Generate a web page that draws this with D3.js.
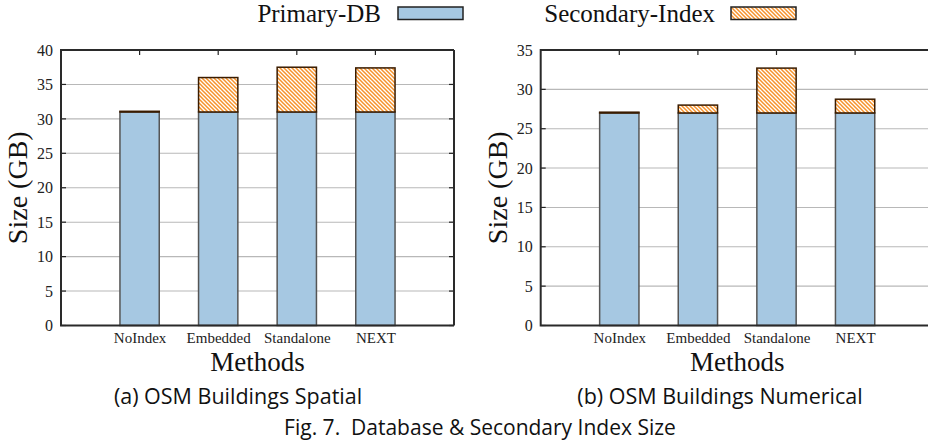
<!DOCTYPE html>
<html>
<head>
<meta charset="utf-8">
<script src="https://cdn.jsdelivr.net/npm/d3@7/dist/d3.min.js"></script>
<style>
  html, body { margin: 0; padding: 0; background: #fff; }
  svg { display: block; }
</style>
</head>
<body>
<svg id="chart" width="928" height="444"></svg>
<script>
// ---- data ----
const categories = ["NoIndex", "Embedded", "Standalone", "NEXT"];
const seriesNames = ["Primary-DB", "Secondary-Index"];
const spatialPrimary = [31, 31, 31, 31];
const spatialSecondary = [0.1, 5.0, 6.5, 6.4];
const numericalPrimary = [27, 27, 27, 27];
const numericalSecondary = [0.1, 1.0, 5.7, 1.75];
const spatialTicks = [0, 5, 10, 15, 20, 25, 30, 35, 40];
const numericalTicks = [0, 5, 10, 15, 20, 25, 30, 35];
const captions = ["(a) OSM Buildings Spatial", "(b) OSM Buildings Numerical"];
const figCaption = "Fig. 7.  Database & Secondary Index Size";

const svg = d3.select("#chart");
const serif = "'Liberation Serif', 'Times New Roman', serif";
const sans = "'Open Sans', 'Noto Sans', sans-serif";
const blue = "#a6c8e2";
const orange = "#f7922a";

// hatch pattern
const defs = svg.append("defs");
const pat = defs.append("pattern")
  .attr("id", "hatch").attr("patternUnits", "userSpaceOnUse")
  .attr("width", 4).attr("height", 4);
pat.append("rect").attr("width", 4).attr("height", 4).attr("fill", "#fff");
pat.append("path").attr("d", "M-1,-1 L5,5 M-1,3 L1,5 M3,-1 L5,1")
  .attr("stroke", orange).attr("stroke-width", 1.5);

function panel(opts) {
  const { x0, x1, y0, y1, yMax, ticks, primary, secondary, caption, capX, clipW } = opts;
  const g = svg.append("g");
  const x = d3.scaleLinear().domain([0, categories.length + 1]).range([x0, x1]);
  const y = d3.scaleLinear().domain([0, yMax]).range([y1, y0]);

  // grid
  g.append("g").selectAll("line").data(ticks.filter(t => t > 0 && t < yMax)).join("line")
    .attr("x1", x0).attr("x2", Math.min(x1, clipW))
    .attr("y1", d => y(d)).attr("y2", d => y(d))
    .attr("stroke", "#b8b8b8").attr("stroke-width", 1.1);

  // y axis labels
  const yAxis = d3.axisLeft(y).tickValues(ticks).tickSize(0).tickPadding(8);
  const ya = g.append("g").attr("transform", `translate(${x0},0)`).call(yAxis);
  ya.select(".domain").remove();
  ya.selectAll("text").attr("font-family", serif).attr("font-size", 16).attr("fill", "#222");

  // inward y ticks
  g.append("g").selectAll("line").data(ticks).join("line")
    .attr("x1", x0).attr("x2", x0 + 5)
    .attr("y1", d => y(d)).attr("y2", d => y(d))
    .attr("stroke", "#222").attr("stroke-width", 1.2);
  if (x1 < clipW) {
    g.append("g").selectAll("line").data(ticks).join("line")
      .attr("x1", x1).attr("x2", x1 - 5)
      .attr("y1", d => y(d)).attr("y2", d => y(d))
      .attr("stroke", "#222").attr("stroke-width", 1.2);
  }

  const bw = x(0.5) - x(0);
  const bars = g.append("g");
  categories.forEach((c, i) => {
    const cx = x(i + 1);
    bars.append("rect")
      .attr("x", cx - bw / 2).attr("width", bw)
      .attr("y", y(primary[i])).attr("height", y(0) - y(primary[i]))
      .attr("fill", blue).attr("stroke", "#555").attr("stroke-width", 1.5);
    bars.append("rect")
      .attr("x", cx - bw / 2).attr("width", bw)
      .attr("y", y(primary[i] + secondary[i])).attr("height", y(primary[i]) - y(primary[i] + secondary[i]))
      .attr("fill", "url(#hatch)").attr("stroke", "#3a1c00").attr("stroke-width", 1.5);
  });

  // top x ticks
  g.append("g").selectAll("line").data(categories).join("line")
    .attr("x1", (d, i) => x(i + 1)).attr("x2", (d, i) => x(i + 1))
    .attr("y1", y0).attr("y2", y0 + 5)
    .attr("stroke", "#222").attr("stroke-width", 1.2);

  // x category labels
  const xAxis = d3.axisBottom(x).tickValues(categories.map((c, i) => i + 1))
    .tickFormat((d) => categories[d - 1]).tickSize(0).tickPadding(7);
  const xa = g.append("g").attr("transform", `translate(0,${y1})`).call(xAxis);
  xa.select(".domain").remove();
  xa.selectAll("text").attr("font-family", serif).attr("font-size", 15).attr("fill", "#222");

  // border
  const bx1 = Math.min(x1, clipW + 2);
  g.append("path")
    .attr("d", `M${bx1},${y0} L${x0},${y0} L${x0},${y1} L${bx1},${y1}` + (x1 < clipW ? ` M${x1},${y0} L${x1},${y1}` : ""))
    .attr("fill", "none").attr("stroke", "#2a2a2a").attr("stroke-width", 2);

  // axis titles
  g.append("text").attr("x", (x0 + x1) / 2).attr("y", 371)
    .attr("text-anchor", "middle").attr("font-family", serif).attr("font-size", 27).attr("fill", "#111")
    .text("Methods");
  g.append("text")
    .attr("transform", `translate(${x0 - 34},${(y0 + y1) / 2}) rotate(-90)`)
    .attr("text-anchor", "middle").attr("font-family", serif).attr("font-size", 28).attr("fill", "#111")
    .text("Size (GB)");

  // caption
  g.append("text").attr("x", capX).attr("y", 404).attr("text-anchor", "middle")
    .attr("font-family", sans).attr("font-size", 21.5).attr("fill", "#111").text(caption);
}

panel({ x0: 61, x1: 454, y0: 50, y1: 325.5, yMax: 40, ticks: spatialTicks,
  primary: spatialPrimary, secondary: spatialSecondary, caption: captions[0], capX: 238, clipW: 928 });
panel({ x0: 540.7, x1: 933.7, y0: 50, y1: 325.5, yMax: 35, ticks: numericalTicks,
  primary: numericalPrimary, secondary: numericalSecondary, caption: captions[1], capX: 720, clipW: 928 });

// legend
const legend = svg.append("g");
const legItems = [
  { name: seriesNames[0], textEnd: 381, boxX: 398, fill: blue, stroke: "#222" },
  { name: seriesNames[1], textEnd: 715, boxX: 731, fill: "url(#hatch)", stroke: "#222" }
];
legItems.forEach(d => {
  legend.append("text").attr("x", d.textEnd).attr("y", 22).attr("text-anchor", "end")
    .attr("font-family", serif).attr("font-size", 25).attr("fill", "#111").text(d.name);
  legend.append("rect").attr("x", d.boxX).attr("y", 7).attr("width", 65).attr("height", 12.5)
    .attr("fill", d.fill).attr("stroke", d.stroke).attr("stroke-width", 1.5);
});

svg.append("text").attr("x", 480).attr("y", 435).attr("text-anchor", "middle")
  .attr("font-family", sans).attr("font-size", 21).attr("fill", "#111")
  .attr("xml:space", "preserve").style("white-space", "pre").text(figCaption);
</script>
</body>
</html>
